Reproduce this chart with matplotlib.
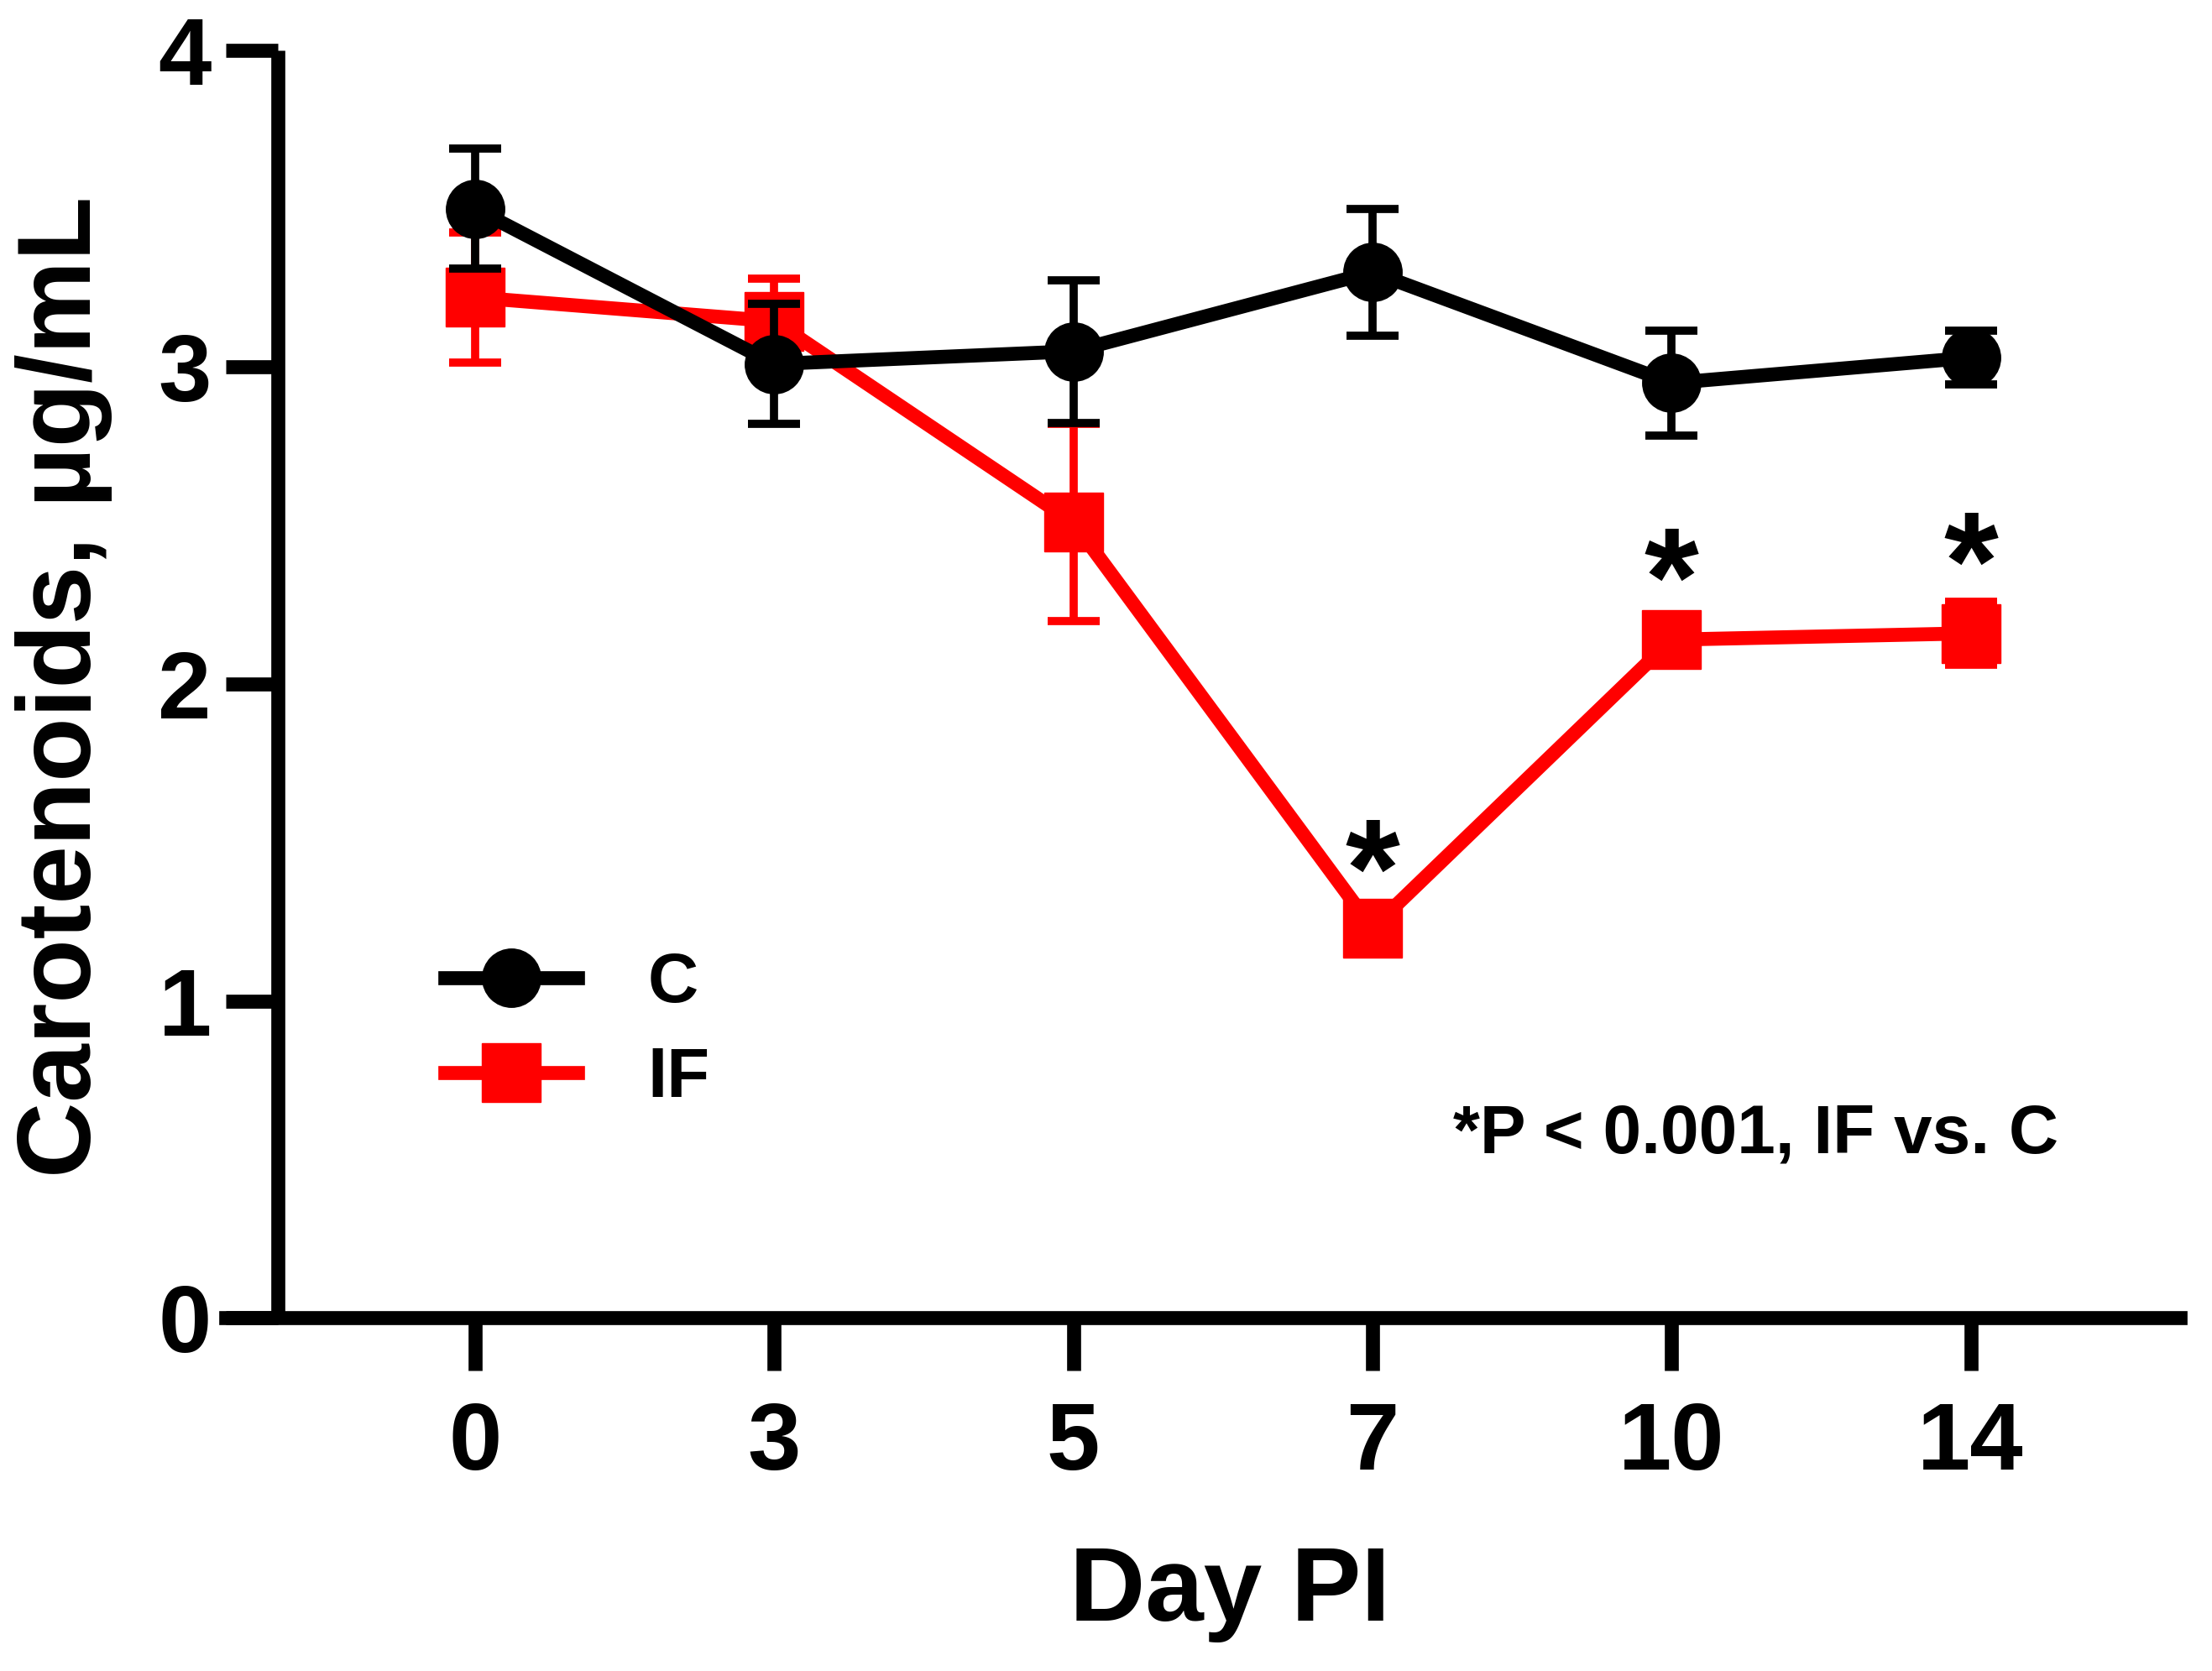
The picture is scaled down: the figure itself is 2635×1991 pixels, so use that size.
import matplotlib
matplotlib.use('Agg')
import matplotlib.pyplot as plt
from matplotlib.lines import Line2D

plt.rcParams['font.family'] = ['Liberation Sans', 'DejaVu Sans']
plt.rcParams['font.weight'] = 'bold'

# Data
days = ['0', '3', '5', '7', '10', '14']
c_mean = [3.50, 3.01, 3.05, 3.30, 2.95, 3.03]
c_err = [0.19, 0.19, 0.225, 0.20, 0.165, 0.085]
if_mean = [3.22, 3.145, 2.51, 1.23, 2.14, 2.16]
if_err = [0.205, 0.135, 0.31, 0.04, 0.05, 0.10]
star_idx = [3, 4, 5]
star_y = [1.38, 2.30, 2.35]

fig = plt.figure(figsize=(26.35, 19.91), dpi=100)
ax = fig.add_axes([0.1021, 0.2114, 0.8835, 0.7585])

x = list(range(len(days)))

# IF first so that C sits on top
ax.errorbar(x, if_mean, yerr=if_err, color='#ff0000', lw=12, marker='s',
            ms=50, elinewidth=7, capsize=22, capthick=7, clip_on=False, zorder=3)
ax.errorbar(x, c_mean, yerr=c_err, color='black', lw=12, marker='o',
            ms=50, elinewidth=7, capsize=22, capthick=7, clip_on=False, zorder=4)

for i, y in zip(star_idx, star_y):
    ax.text(x[i], y, '*', ha='center', va='center', fontsize=120,
            fontweight='bold')

ax.text(0.628, 0.144, '*P < 0.001, IF vs. C', transform=ax.transAxes,
        fontsize=59, fontweight='bold', va='center', ha='left')

# axes styling
ax.set_xlim(-0.833, 5.70)
ax.set_ylim(0, 4)
for s in ['top', 'right']:
    ax.spines[s].set_visible(False)
ax.spines['left'].set_position(('data', -0.659))
ax.spines['left'].set_bounds(0, 4)
ax.spines['left'].set_linewidth(12)
ax.spines['bottom'].set_linewidth(12)
ax.spines['left'].set_capstyle('butt')

ax.set_xticks(x)
ax.set_xticklabels(days)
ax.set_yticks([0, 1, 2, 3, 4])
ax.tick_params(axis='both', length=45, width=12, labelsize=82)
ax.tick_params(axis='y', pad=12)
ax.tick_params(axis='x', pad=26)
for lab in ax.get_xticklabels() + ax.get_yticklabels():
    lab.set_fontweight('bold')

fig.text(0.0288, 0.589, 'Carotenoids, µg/mL', rotation=90, ha='center',
         va='center', fontsize=90, fontweight='bold')
fig.text(0.556, 0.046, 'Day PI', ha='center', va='center', fontsize=90,
         fontweight='bold')

handles = [
    Line2D([], [], color='black', lw=12, marker='o', ms=50),
    Line2D([], [], color='#ff0000', lw=12, marker='s', ms=50),
]
leg = ax.legend(handles, ['C', 'IF'], loc='upper left',
                bbox_to_anchor=(0.201, 0.431), bbox_transform=fig.transFigure,
                frameon=False, fontsize=60, handlelength=1.9,
                handletextpad=1.0, labelspacing=0.42, borderpad=0,
                borderaxespad=0, numpoints=1)
for t in leg.get_texts():
    t.set_fontweight('bold')

fig.savefig('out.png', dpi=100)
